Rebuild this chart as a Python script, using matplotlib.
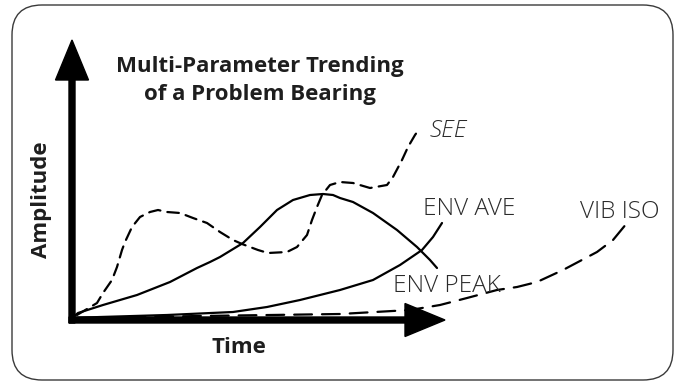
import matplotlib
matplotlib.use("Agg")
import matplotlib.pyplot as plt
from matplotlib.patches import FancyBboxPatch

# Trend curves: time vs amplitude (arbitrary units, origin at the axis corner)
env_peak_time = [0, 6, 31, 65, 98, 125, 138, 148, 171, 188, 205, 221, 238, 251, 261, 268, 281, 301, 325, 345, 358, 365]
env_peak_amp = [2, 7, 15, 25, 38, 52, 58, 63, 77, 93, 110, 120, 125, 126, 125, 122, 118, 107, 90, 73, 60, 52]

env_ave_time = [0, 28, 95, 161, 195, 228, 268, 301, 328, 350, 361, 370]
env_ave_amp = [2, 3, 5, 8, 13, 20, 30, 40, 55, 70, 83, 97]

see_time = [5, 25, 31, 40, 45, 50, 53, 60, 68, 78, 86, 95, 108, 121, 135, 148, 161, 170, 186, 196, 215, 225, 235, 240, 245, 250, 258, 268, 281, 298, 315, 321, 330, 336, 343, 348]
see_amp = [5, 17, 27, 40, 53, 70, 78, 93, 103, 108, 110, 108, 107, 102, 97, 88, 80, 76, 70, 67, 68, 73, 85, 100, 113, 125, 135, 138, 137, 132, 135, 143, 160, 173, 185, 192]

vib_iso_time = [0, 128, 268, 338, 368, 395, 425, 445, 465, 491, 525, 541, 555]
vib_iso_amp = [2, 4, 6, 10, 15, 22, 30, 33, 38, 50, 68, 80, 97]

curve_labels = ["SEE", "ENV AVE", "ENV PEAK", "VIB ISO"]
title_lines = ["Multi-Parameter Trending", "of a Problem Bearing"]
x_label = "Time"
y_label = "Amplitude"

W, H, DPI = 679, 382, 100
fig = plt.figure(figsize=(W / DPI, H / DPI), dpi=DPI)
ax = fig.add_axes([0, 0, 1, 1])
# one data unit == one pixel
ax.set_xlim(-72, W - 72)
ax.set_ylim(-(H - 320), 320)
ax.axis("off")

# rounded panel frame
frame = FancyBboxPatch((-60, -60), 661, 375,
                       boxstyle="round,pad=0,rounding_size=30",
                       fc="white", ec="#3a3a3a", lw=1.0, zorder=0)
ax.add_patch(frame)

lw = 1.6
ax.plot(env_peak_time, env_peak_amp, color="black", lw=lw,
        solid_capstyle="round", solid_joinstyle="round", zorder=3)
ax.plot(env_ave_time, env_ave_amp, color="black", lw=lw,
        solid_capstyle="round", solid_joinstyle="round", zorder=3)
ax.plot(see_time, see_amp, color="black", lw=lw, dashes=(5.2, 3.2),
        dash_capstyle="round", dash_joinstyle="round", zorder=3)
ax.plot(vib_iso_time, vib_iso_amp, color="black", lw=lw, dashes=(8, 4.5),
        dash_capstyle="round", dash_joinstyle="round", zorder=3)

# axes drawn as thick arrows
ax.arrow(-3, 0, 376, 0, width=6, head_width=33, head_length=40,
         length_includes_head=True, color="black", zorder=4)
ax.arrow(0, -3, 0, 283, width=6, head_width=33, head_length=40,
         length_includes_head=True, color="black", zorder=4)

bold = dict(family="Open Sans", fontweight="bold", color="#1e1e1e")
light = dict(family="Open Sans", fontweight="light", color="#2a2a2a")

ax.text(188, 248, title_lines[0], ha="center", va="baseline", fontsize=16, **bold)
ax.text(188, 220, title_lines[1], ha="center", va="baseline", fontsize=16, **bold)
ax.text(167, -33, x_label, ha="center", va="baseline", fontsize=16, **bold)
ax.text(-30, 120, y_label, ha="center", va="center", rotation=90, fontsize=16, **bold)

ax.text(358, 183, curve_labels[0], ha="left", va="baseline", fontsize=17.5, style="italic", **light)
ax.text(351, 105, curve_labels[1], ha="left", va="baseline", fontsize=17.5, **light)
ax.text(321, 28, curve_labels[2], ha="left", va="baseline", fontsize=17.5, **light)
ax.text(508, 102, curve_labels[3], ha="left", va="baseline", fontsize=17.5, **light)

fig.savefig("out.png", dpi=DPI)
